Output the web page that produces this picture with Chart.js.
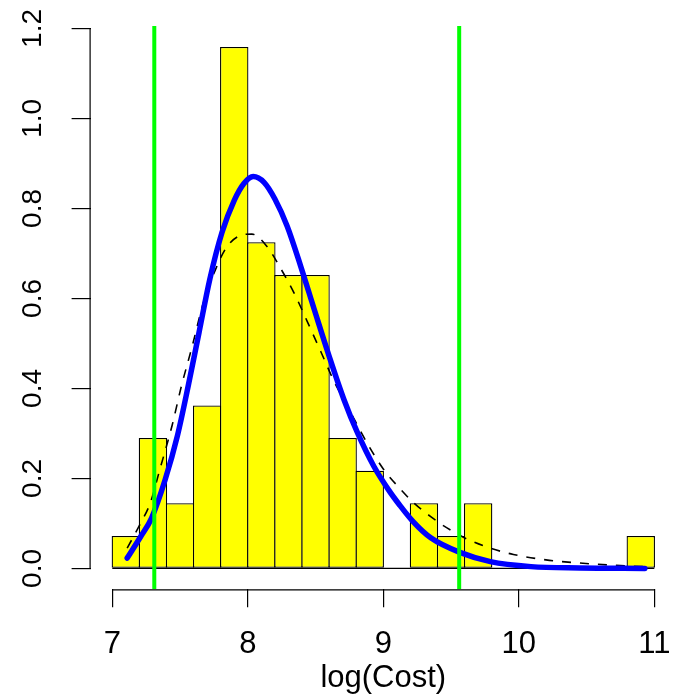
<!DOCTYPE html>
<html>
<head>
<meta charset="utf-8">
<script src="https://cdn.jsdelivr.net/npm/chart.js@4/dist/chart.umd.min.js"></script>
<style>
  body { margin: 0; background: #fff; }
  #hist { display: block; }
</style>
</head>
<body>
<canvas id="hist" width="680" height="699"></canvas>
<script>
// histogram bins (midpoints, width 0.2) and densities
var binMids = [7.1, 7.3, 7.5, 7.7, 7.9, 8.1, 8.3, 8.5, 8.7, 8.9,
               9.1, 9.3, 9.5, 9.7, 9.9, 10.1, 10.3, 10.5, 10.7, 10.9];
var density = [0.072, 0.290, 0.145, 0.362, 1.159, 0.725, 0.652, 0.652, 0.290, 0.217,
               0, 0.145, 0.072, 0.145, 0, 0, 0, 0, 0, 0.072];

// fitted density (solid blue)
var fitX = [7.11, 7.21, 7.29, 7.39, 7.48, 7.56, 7.64, 7.72, 7.81, 7.90, 7.97, 8.04,
            8.12, 8.20, 8.29, 8.39, 8.49, 8.60, 8.71, 8.81, 8.93, 9.04, 9.12, 9.22,
            9.35, 9.57, 9.79, 10.09, 10.45, 10.93];
var fitY = [0.023, 0.071, 0.112, 0.197, 0.294, 0.405, 0.524, 0.643, 0.747, 0.818, 0.855, 0.871,
            0.858, 0.821, 0.761, 0.672, 0.576, 0.472, 0.375, 0.301, 0.227, 0.174, 0.141, 0.104,
            0.068, 0.035, 0.015, 0.004, 0.001, 0];

// kernel density (dashed black)
var kdeX = [7.11, 7.21, 7.28, 7.35, 7.44, 7.51, 7.59, 7.67, 7.76, 7.84, 7.93, 8.03,
            8.14, 8.24, 8.34, 8.44, 8.54, 8.63, 8.76, 8.88, 9.00, 9.13, 9.22, 9.35,
            9.47, 9.62, 9.79, 9.96, 10.2, 10.45, 10.7, 10.92];
var kdeY = [0.045, 0.101, 0.145, 0.219, 0.316, 0.405, 0.494, 0.588, 0.663, 0.712, 0.738, 0.743,
            0.716, 0.668, 0.613, 0.548, 0.481, 0.420, 0.346, 0.279, 0.221, 0.175, 0.147, 0.115,
            0.090, 0.065, 0.045, 0.031, 0.019, 0.012, 0.007, 0.004];

// vertical reference lines
var cutoffs = [7.31, 9.56];

var xTicks = [7, 8, 9, 10, 11];
var yTicks = [0, 0.2, 0.4, 0.6, 0.8, 1.0, 1.2];

var xMin = 6.84, xMax = 11.16;
var yMin = -0.0464, yMax = 1.2054;

Chart.defaults.font.family = "'Liberation Sans', Arial, sans-serif";
Chart.defaults.color = '#000';

function pts(xs, ys) {
    return xs.map(function(x, i) { return { x: x, y: ys[i] }; });
}

var datasets = [
    {
        type: 'bar',
        data: pts(binMids, density),
        backgroundColor: '#ffff00',
        borderColor: '#000',
        borderWidth: 1.3,
        borderSkipped: false,
        barPercentage: 1.048,
        categoryPercentage: 1,
        order: 4
    },
    {
        type: 'line',
        data: [{ x: 7, y: 0 }, { x: 11, y: 0 }],
        borderColor: '#000',
        borderWidth: 1.2,
        pointRadius: 0,
        order: 3
    },
    {
        type: 'line',
        data: pts(kdeX, kdeY),
        borderColor: '#000',
        borderWidth: 1.6,
        borderDash: [9, 9],
        pointRadius: 0,
        cubicInterpolationMode: 'monotone',
        order: 2
    },
    {
        type: 'line',
        data: pts(fitX, fitY),
        borderColor: '#0000ff',
        borderWidth: 5.5,
        borderCapStyle: 'round',
        borderJoinStyle: 'round',
        pointRadius: 0,
        cubicInterpolationMode: 'monotone',
        order: 1
    }
];

cutoffs.forEach(function(c) {
    datasets.push({
        type: 'line',
        data: [{ x: c, y: yMin }, { x: c, y: yMax }],
        borderColor: '#00ff00',
        borderWidth: 4,
        pointRadius: 0,
        order: 0
    });
});

// axis lines only span first..last tick, like base R graphics
var axisLines = {
    id: 'axisLines',
    afterDraw: function(chart) {
        var ctx = chart.ctx, xs = chart.scales.x, ys = chart.scales.y, a = chart.chartArea;
        ctx.save();
        ctx.strokeStyle = '#000';
        ctx.lineWidth = 1.2;
        ctx.beginPath();
        ctx.moveTo(xs.getPixelForValue(xTicks[0]), a.bottom + 0.5);
        ctx.lineTo(xs.getPixelForValue(xTicks[xTicks.length - 1]), a.bottom + 0.5);
        ctx.moveTo(a.left - 0.5, ys.getPixelForValue(yTicks[0]));
        ctx.lineTo(a.left - 0.5, ys.getPixelForValue(yTicks[yTicks.length - 1]));
        ctx.stroke();
        ctx.restore();
    }
};

function noEdgePadding(s) {
    s.paddingTop = 0; s.paddingBottom = 0;
    s.paddingLeft = 0; s.paddingRight = 0;
}

new Chart(document.getElementById('hist'), {
    type: 'bar',
    data: { datasets: datasets },
    plugins: [axisLines],
    options: {
        responsive: false,
        animation: false,
        layout: { padding: { top: 26, right: 4, left: 0, bottom: 0 } },
        plugins: { legend: { display: false }, tooltip: { enabled: false } },
        scales: {
            x: {
                type: 'linear',
                offset: false,
                min: xMin,
                max: xMax,
                afterBuildTicks: function(s) { s.ticks = xTicks.map(function(v) { return { value: v }; }); },
                afterFit: function(s) { s.height = 109.7; noEdgePadding(s); },
                border: { display: false },
                grid: { offset: false, drawOnChartArea: false, drawTicks: true, tickLength: 18, color: '#000', lineWidth: 1.2 },
                ticks: {
                    autoSkip: false, maxRotation: 0, minRotation: 0, padding: 19,
                    font: { size: 31 },
                    callback: function(v) { return String(v); }
                },
                title: { display: true, text: 'log(Cost)', font: { size: 31 }, padding: { top: 0, bottom: 1.8 } }
            },
            y: {
                type: 'linear',
                min: yMin,
                max: yMax,
                afterBuildTicks: function(s) { s.ticks = yTicks.map(function(v) { return { value: v }; }); },
                afterFit: function(s) { s.width = 90.6; noEdgePadding(s); },
                border: { display: false },
                grid: { drawOnChartArea: false, drawTicks: true, tickLength: 19, color: '#000', lineWidth: 1.2 },
                ticks: {
                    autoSkip: false, minRotation: 90, maxRotation: 90, crossAlign: 'center', padding: 19,
                    font: { size: 28 },
                    callback: function(v) { return v.toFixed(1); }
                }
            }
        }
    }
});
</script>
</body>
</html>
